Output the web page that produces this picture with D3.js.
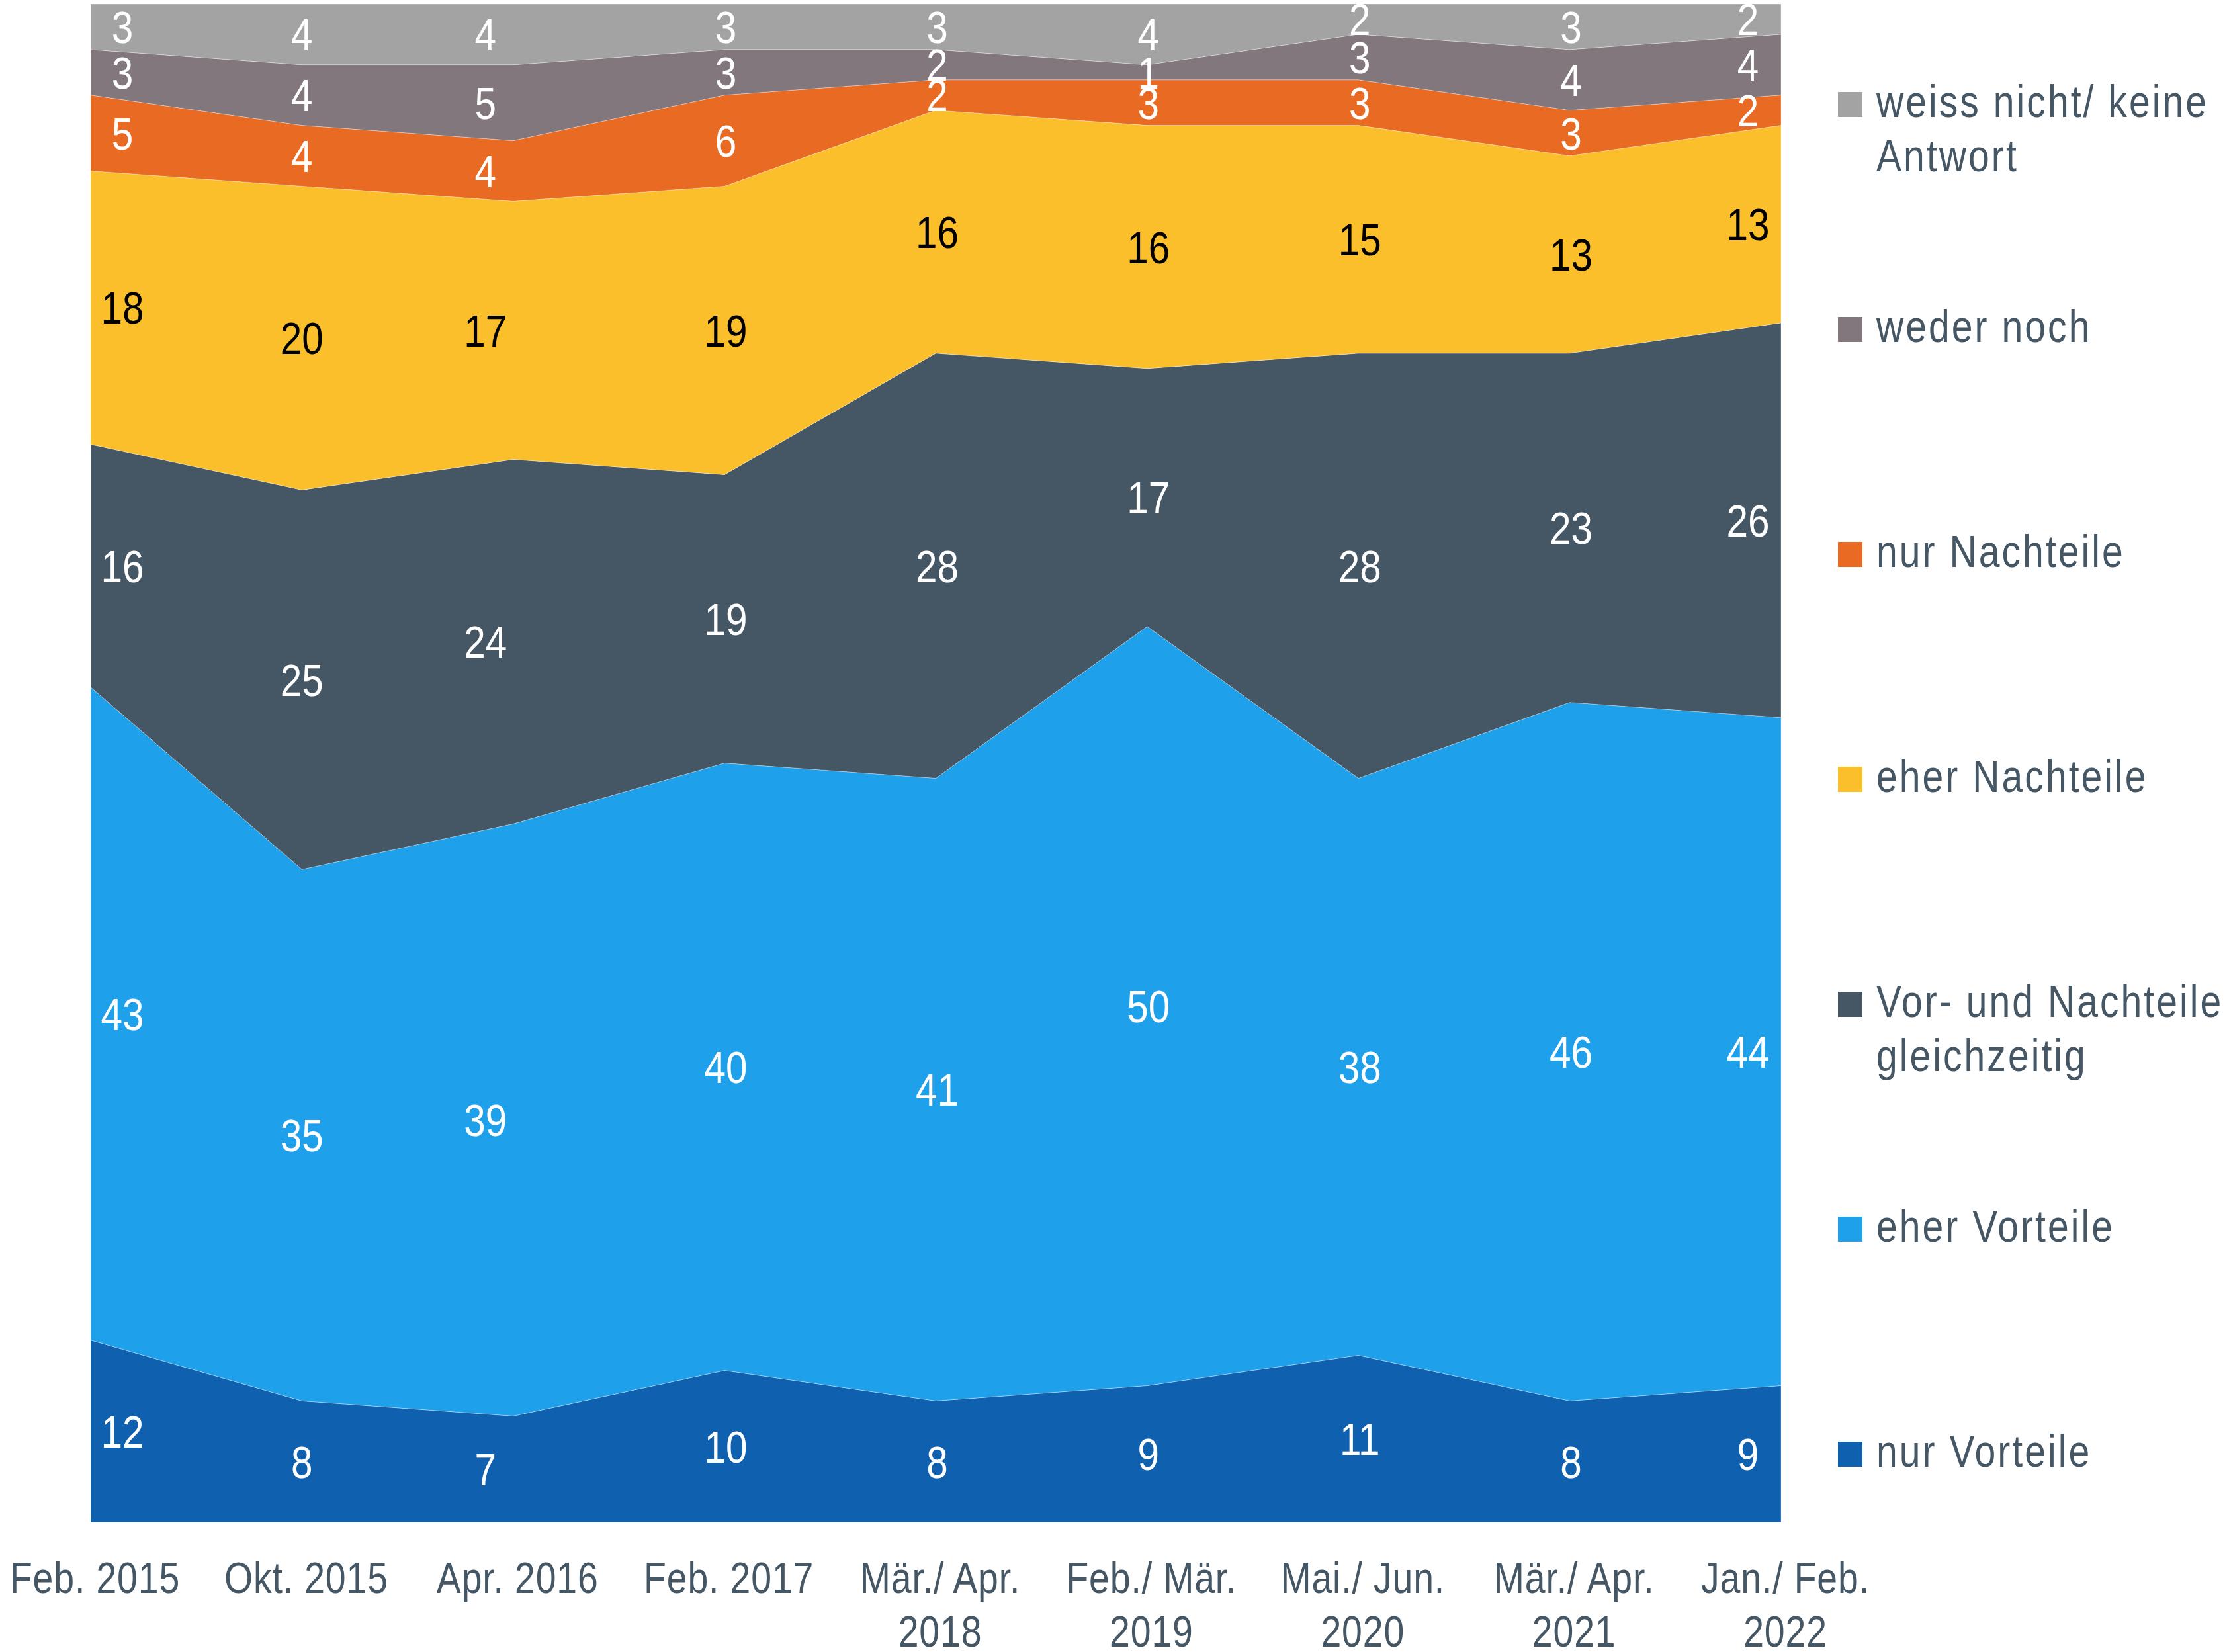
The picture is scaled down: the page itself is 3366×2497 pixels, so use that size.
<!DOCTYPE html>
<html>
<head>
<meta charset="utf-8">
<script src="https://cdn.jsdelivr.net/npm/d3@7"></script>
<style>
  body { margin: 0; background: #fff; }
  text { font-family: "Liberation Sans", Arial, sans-serif; }
</style>
</head>
<body>
<div id="chart-area"></div>
<script>
// survey waves (x axis), each label may have two lines
var waves = ["Feb. 2015", "Okt. 2015", "Apr. 2016", "Feb. 2017", "Mär./ Apr. 2018",
             "Feb./ Mär. 2019", "Mai./ Jun. 2020", "Mär./ Apr. 2021", "Jan./ Feb. 2022"];
var waveLabels = [["Feb. 2015"], ["Okt. 2015"], ["Apr. 2016"], ["Feb. 2017"],
                  ["Mär./ Apr.", "2018"], ["Feb./ Mär.", "2019"], ["Mai./ Jun.", "2020"],
                  ["Mär./ Apr.", "2021"], ["Jan./ Feb.", "2022"]];

// series, bottom to top of the stack
var seriesNames = ["nur Vorteile", "eher Vorteile", "Vor- und Nachteile gleichzeitig",
                   "eher Nachteile", "nur Nachteile", "weder noch", "weiss nicht/ keine Antwort"];
var nurVorteile      = [12, 8, 7, 10, 8, 9, 11, 8, 9];
var eherVorteile     = [43, 35, 39, 40, 41, 50, 38, 46, 44];
var vorUndNachteile  = [16, 25, 24, 19, 28, 17, 28, 23, 26];
var eherNachteile    = [18, 20, 17, 19, 16, 16, 15, 13, 13];
var nurNachteile     = [5, 4, 4, 6, 2, 3, 3, 3, 2];
var wederNoch        = [3, 4, 5, 3, 2, 1, 3, 4, 4];
var weissNicht       = [3, 4, 4, 3, 3, 4, 2, 3, 2];

var seriesValues = [nurVorteile, eherVorteile, vorUndNachteile, eherNachteile,
                    nurNachteile, wederNoch, weissNicht];
var colors = ["#0F60AE", "#1FA0EA", "#455664", "#FABF2A", "#E86A23", "#82777D", "#A3A3A3"];
var labelColors = ["#fff", "#fff", "#fff", "#000", "#fff", "#fff", "#fff"];
var legendLines = [["nur Vorteile"], ["eher Vorteile"], ["Vor- und Nachteile", "gleichzeitig"],
                   ["eher Nachteile"], ["nur Nachteile"], ["weder noch"], ["weiss nicht/ keine", "Antwort"]];

var W = 3366, H = 2497;
var plot = {left: 137, right: 2692, top: 6, bottom: 2301};
var textColor = "#455664";
var squeeze = 0.84;   // the original uses a condensed face
// small horizontal nudges of the value labels per wave (labels at the edges sit inside)
var labelShift = [48, 0, -42, 2, 2, 2, 2, 2, -50];

// build table
var table = waves.map(function(w, i) {
  var row = {wave: w};
  seriesNames.forEach(function(s, k) { row[s] = seriesValues[k][i]; });
  return row;
});

var svg = d3.select("#chart-area")
  .append("svg")
    .attr("width", W)
    .attr("height", H);

var x = d3.scalePoint()
  .domain(waves)
  .range([plot.left, plot.right]);

var y = d3.scaleLinear()
  .domain([0, 100])
  .range([plot.bottom, plot.top]);

var layers = d3.stack().keys(seriesNames)(table);

var area = d3.area()
  .x(function(d) { return x(d.data.wave); })
  .y0(function(d) { return y(d[0]); })
  .y1(function(d) { return y(d[1]); });

svg.append("g")
  .selectAll("path")
  .data(layers)
  .enter()
  .append("path")
    .attr("d", area)
    .attr("fill", function(d, i) { return colors[i]; })
    .attr("stroke", "#ffffff")
    .attr("stroke-opacity", 0.35)
    .attr("stroke-width", 1);

// value labels
layers.forEach(function(layer, k) {
  svg.append("g")
    .selectAll("text")
    .data(layer)
    .enter()
    .append("text")
      .attr("transform", function(d, i) {
        return "translate(" + (x(d.data.wave) + labelShift[i]) + "," + y((d[0] + d[1]) / 2) + ") scale(0.86,1)";
      })
      .attr("dy", "0.36em")
      .attr("text-anchor", "middle")
      .attr("font-size", "68px")
      .attr("fill", labelColors[k])
      .text(function(d) { return d[1] - d[0]; });
});

// x axis
var xAxis = d3.axisBottom(x).tickSize(0).tickFormat("");
var gx = svg.append("g")
  .attr("transform", "translate(0," + plot.bottom + ")")
  .call(xAxis);
gx.select(".domain").remove();
gx.selectAll(".tick").each(function(d, i) {
  var t = d3.select(this).append("text")
    .attr("text-anchor", "middle")
    .attr("transform", "translate(6,0) scale(" + squeeze + ",1)")
    .attr("font-size", "66px")
    .attr("letter-spacing", "1px")
    .attr("fill", textColor);
  waveLabels[i].forEach(function(line, j) {
    t.append("tspan")
      .attr("x", 0)
      .attr("y", 107 + j * 81)
      .text(line);
  });
});

// legend, top entry is the top layer
var legend = svg.append("g")
  .attr("transform", "translate(2778,0)");
var order = d3.range(seriesNames.length).reverse();
order.forEach(function(k, row) {
  var base = 177 + row * 340;
  var g = legend.append("g");
  g.append("rect")
    .attr("x", 0)
    .attr("y", base - 38)
    .attr("width", 37)
    .attr("height", 38)
    .attr("fill", colors[k]);
  var t = g.append("text")
    .attr("transform", "translate(58,0) scale(" + squeeze + ",1)")
    .attr("font-size", "68px")
    .attr("letter-spacing", "3.6px")
    .attr("fill", textColor);
  legendLines[k].forEach(function(line, j) {
    t.append("tspan")
      .attr("x", 0)
      .attr("y", base + j * 82)
      .text(line);
  });
});
</script>
</body>
</html>
